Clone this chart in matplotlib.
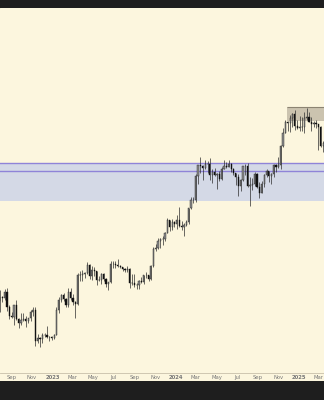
import numpy as np
import pandas as pd
import matplotlib
matplotlib.use('Agg')
import matplotlib.pyplot as plt
import matplotlib.dates as mdates
from matplotlib.patches import Rectangle

# weekly candles (thousand USD), weeks start 2022-07-25
first_open = 22.6
closes = [
    23.3, 23.2, 24.3, 21.5, 20.0, 19.8, 21.8, 19.4, 18.8, 19.3, 19.4, 19.1, 19.6, 20.6, 21.0, 16.3, 16.6, 16.5, 17.1, 17.1, 16.8, 16.8, 16.6,
    17.1, 20.9, 22.7, 23.7, 22.9, 21.8, 24.3, 23.2, 22.4, 22.0, 28.0, 27.9, 28.2, 28.3, 30.3, 27.6, 29.2, 28.8, 26.9, 26.8, 28.1, 27.1, 25.9, 26.3,
    30.5, 30.6, 30.3, 30.2, 29.9, 29.3, 29.1, 29.3, 26.1, 26.1, 25.8, 25.8, 26.5, 26.3, 27.9, 27.9, 27.1, 30.0, 34.5, 35.0, 37.0, 37.4, 37.4, 39.4,
    43.8, 41.4, 43.0, 42.3,
    43.9, 41.7, 41.6, 42.0, 43.0, 48.3, 51.6, 51.7, 63.1, 69.0, 68.4, 67.2, 69.6, 69.4, 63.4, 64.9, 63.4, 64.0, 61.5, 66.9, 68.6, 67.8, 69.6, 66.6,
    64.3, 62.7, 58.0, 60.8, 68.2, 68.2, 58.2, 58.7, 58.9, 64.2, 57.3, 54.8, 59.1, 63.6, 65.6, 62.9, 63.9, 69.0, 67.9, 68.7, 80.4, 89.9, 97.9, 97.3,
    101.1, 104.5, 95.2, 93.4, 94.5,
    94.5, 101.3, 102.6, 97.7, 96.5, 97.5, 96.1, 94.3, 80.7, 82.6,
]
highs = [
    24.7, 23.6, 24.9, 25.2, 21.8, 20.6, 21.8, 22.7, 19.7, 20.4, 20.5, 19.9, 19.7, 21.0, 21.4, 21.5, 17.2, 16.8, 17.4, 17.4, 18.4, 17.0, 16.9,
    17.2, 21.4, 23.4, 23.9, 24.2, 23.2, 25.2, 25.1, 23.9, 22.6, 28.4, 28.9, 29.2, 28.6, 31.0, 30.5, 30.0, 29.8, 28.9, 27.6, 28.5, 28.4, 27.2, 26.4,
    31.4, 31.3, 31.4, 31.8, 30.3, 29.9, 29.7, 30.2, 29.6, 28.1, 28.1, 26.1, 26.9, 27.5, 28.0, 28.6, 27.9, 30.4, 35.2, 35.9, 37.9, 38.0, 38.4, 39.7,
    44.7, 44.0, 44.3, 43.6,
    45.9, 49.0, 43.6, 42.8, 43.8, 48.6, 52.8, 52.9, 64.0, 69.1, 73.8, 68.9, 71.8, 71.2, 72.8, 66.9, 67.3, 64.7, 65.5, 67.7, 71.9, 70.6, 71.9, 70.0,
    67.0, 64.3, 63.8, 61.3, 68.3, 69.3, 70.0, 62.7, 61.8, 65.0, 64.5, 59.8, 60.6, 64.1, 66.5, 65.6, 64.5, 69.5, 69.5, 73.6, 81.4, 93.5, 99.6, 98.7,
    104.0, 105.3, 108.3, 99.9, 102.7,
    102.5, 106.4, 109.6, 106.5, 102.5, 98.8, 99.5, 96.5, 95.0, 84.0,
]
lows = [
    20.7, 22.4, 22.7, 20.8, 19.5, 19.6, 18.5, 19.3, 18.1, 18.5, 19.2, 18.2, 18.9, 19.2, 20.0, 15.6, 16.0, 15.5, 16.0, 16.8, 16.6, 16.3, 16.4,
    16.5, 17.1, 20.4, 22.3, 22.5, 21.4, 21.4, 22.8, 21.9, 19.6, 21.9, 26.6, 26.5, 27.2, 28.2, 27.1, 26.9, 27.7, 25.8, 26.5, 25.9, 26.6, 25.4, 24.8,
    26.2, 29.5, 29.7, 29.9, 29.5, 28.9, 28.6, 28.7, 25.2, 25.8, 25.4, 24.9, 24.9, 26.1, 26.0, 27.2, 26.6, 26.9, 29.9, 34.1, 34.5, 34.8, 35.6, 36.9,
    39.4, 40.2, 40.5, 41.5,
    40.8, 41.5, 40.3, 38.5, 41.9, 42.3, 48.2, 50.6, 50.9, 59.0, 64.6, 60.8, 66.5, 64.5, 61.0, 59.6, 62.8, 56.5, 60.2, 60.7, 66.6, 67.1, 67.7, 65.1,
    63.4, 58.4, 53.5, 55.7, 60.6, 63.5, 57.3, 49.1, 56.1, 58.0, 57.2, 52.6, 54.6, 57.5, 62.7, 59.8, 58.9, 62.3, 65.0, 67.4, 66.8, 80.2, 89.4, 90.8,
    90.5, 94.1, 92.2, 92.6, 91.4,
    91.2, 89.3, 99.5, 97.7, 91.2, 94.1, 93.4, 78.2, 80.0, 76.6,
]

# horizontal levels and the grey box
zone_top = 70.0
zone_mid = 65.6
zone_bottom = 51.3
box_start = '2024-11-27'
box_low = 98.8
box_high = 110.8

tick_dates = ['2022-09-01', '2022-11-01', '2023-01-01', '2023-03-01', '2023-05-01', '2023-07-01',
              '2023-09-01', '2023-11-01', '2024-01-01', '2024-03-01', '2024-05-01', '2024-07-01',
              '2024-09-01', '2024-11-01', '2025-01-01', '2025-03-01']
tick_labels = ['Sep', 'Nov', '2023', 'Mar', 'May', 'Jul', 'Sep', 'Nov', '2024', 'Mar', 'May', 'Jul',
               'Sep', 'Nov', '2025', 'Mar']

CREAM = '#fcf6de'
DARK = '#1e1e1e'


def plot_chart():
    opens = [first_open] + closes[:-1]
    weeks = pd.date_range('2022-07-25', periods=len(closes), freq='7D')
    x = mdates.date2num(weeks) + 3.5

    fig = plt.figure(figsize=(3.24, 4.0), dpi=100, facecolor=DARK)
    # cream band behind the plot (includes the date labels)
    bg = fig.add_axes([0, 19 / 400, 1, 373 / 400])
    bg.set_axis_off()
    bg.add_patch(Rectangle((0, 0), 1, 1, transform=bg.transAxes, color=CREAM))

    ax = fig.add_axes([0, 27 / 400, 1, 365 / 400])
    ax.set_facecolor('none')

    ax.set_yscale('log')
    ax.set_ylim(12.5, 250)
    x_left = mdates.date2num(pd.Timestamp('2022-07-29'))
    x_right = mdates.date2num(pd.Timestamp('2025-03-16'))
    ax.set_xlim(x_left, x_right)

    # support zone
    ax.axhspan(zone_bottom, zone_top, color='#d4d9e6', zorder=1, lw=0)
    ax.axhline(zone_top, color='#8f84d8', lw=1.0, zorder=2)
    ax.axhline(zone_mid, color='#8f84d8', lw=1.0, zorder=2)

    # grey box
    bx = mdates.date2num(pd.Timestamp(box_start))
    ax.add_patch(Rectangle((bx, box_low), x_right - bx, box_high - box_low,
                           facecolor='#cbc3af', edgecolor='none', zorder=1.5))
    ax.hlines(box_high, bx, x_right, color='#8c8472', lw=0.8, zorder=1.6)

    # candles
    o = np.array(opens)
    c = np.array(closes)
    up = c >= o
    ax.vlines(x, lows, highs, color='#2e2e2e', lw=0.5, zorder=3)
    ax.bar(x[up], c[up] - o[up], bottom=o[up], width=3.5, color='#8e8e8e',
           edgecolor='#1e1e1e', linewidth=0.3, zorder=4)
    ax.bar(x[~up], o[~up] - c[~up], bottom=c[~up], width=3.5, color='#111111',
           edgecolor='#111111', linewidth=0.3, zorder=4)

    ax.set_xticks([mdates.date2num(pd.Timestamp(d)) for d in tick_dates])
    ax.set_xticklabels(tick_labels)
    ax.tick_params(axis='x', length=0, pad=1.2, labelsize=3.8, labelcolor='#777777')
    for lbl in ax.get_xticklabels():
        if lbl.get_text().isdigit():
            lbl.set_fontweight('bold')
    ax.set_yticks([])
    ax.yaxis.set_minor_locator(plt.NullLocator())
    for side in ['top', 'left', 'right']:
        ax.spines[side].set_visible(False)
    ax.spines['bottom'].set_color('#c8c0aa')
    ax.spines['bottom'].set_linewidth(0.6)

    fig.savefig('out.png', dpi=100, facecolor=DARK)
    print("saved out.png")


if __name__ == '__main__':
    plot_chart()
